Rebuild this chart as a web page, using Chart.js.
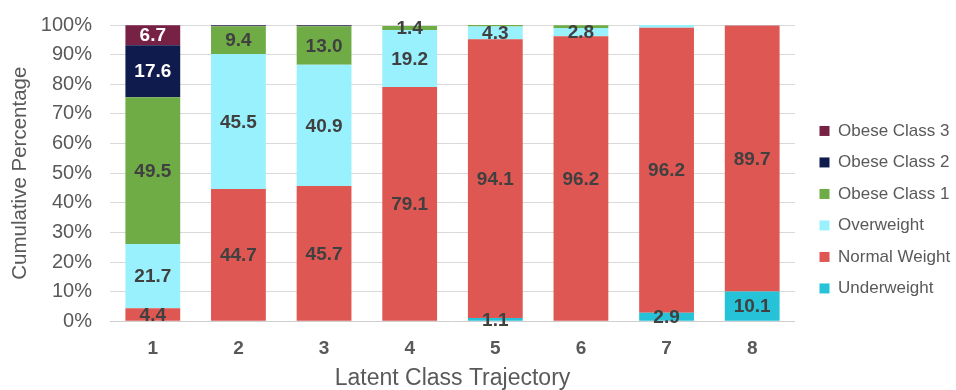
<!DOCTYPE html>
<html>
<head>
<meta charset="utf-8">
<script src="https://cdn.jsdelivr.net/npm/chart.js@4/dist/chart.umd.min.js"></script>
<style>
  html, body { margin: 0; padding: 0; background: #fff; }
  #wrap { width: 956px; height: 390px; }
</style>
</head>
<body>
<div id="wrap"><canvas id="c" width="956" height="390"></canvas></div>
<script>
// Trajectory classes on the x axis
const categories = ['1', '2', '3', '4', '5', '6', '7', '8'];

// Share of each BMI group within every trajectory class (%)
const underweight  = [0.0, 0.0, 0.0, 0.0, 1.1, 0.0, 2.9, 10.1];
const normalWeight = [4.4, 44.7, 45.7, 79.1, 94.1, 96.2, 96.2, 89.7];
const overweight   = [21.7, 45.5, 40.9, 19.2, 4.3, 2.8, 0.9, 0.2];
const obeseClass1  = [49.5, 9.4, 13.0, 1.4, 0.5, 0.9, 0.0, 0.0];
const obeseClass2  = [17.6, 0.2, 0.2, 0.0, 0.0, 0.0, 0.0, 0.0];
const obeseClass3  = [6.7, 0.2, 0.2, 0.0, 0.0, 0.0, 0.0, 0.0];

const yTicks = [0, 10, 20, 30, 40, 50, 60, 70, 80, 90, 100];

const FONT = '"Liberation Sans", Arial, sans-serif';

const series = [
  { label: 'Underweight',   data: underweight,  color: '#26C2D8', text: '#404040' },
  { label: 'Normal Weight', data: normalWeight, color: '#DF5753', text: '#404040' },
  { label: 'Overweight',    data: overweight,   color: '#99F1FE', text: '#404040' },
  { label: 'Obese Class 1', data: obeseClass1,  color: '#6FAC46', text: '#404040' },
  { label: 'Obese Class 2', data: obeseClass2,  color: '#0F1B4C', text: '#FFFFFF' },
  { label: 'Obese Class 3', data: obeseClass3,  color: '#772145', text: '#FFFFFF' }
];

// Value labels centred in every segment of at least 1%
const segmentLabels = {
  id: 'segmentLabels',
  afterDatasetsDraw(chart) {
    const ctx = chart.ctx;
    ctx.save();
    ctx.font = 'bold 19px ' + FONT;
    ctx.textAlign = 'center';
    ctx.textBaseline = 'middle';
    chart.data.datasets.forEach((ds, i) => {
      const meta = chart.getDatasetMeta(i);
      meta.data.forEach((bar, j) => {
        const v = ds.data[j];
        if (v < 1) return;
        ctx.fillStyle = series[i].text;
        ctx.fillText(v.toFixed(1), bar.x, (bar.y + bar.base) / 2 + 1);
      });
    });
    ctx.restore();
  }
};

// Fixed-width legend column on the right, items nudged toward the edge
const legendWidth = {
  id: 'legendWidth',
  afterInit(chart) {
    const lg = chart.legend;
    if (!lg) return;
    const fit = lg.fit.bind(lg);
    lg.fit = function () {
      fit();
      this.width = 161;
    };
    const draw = lg.draw.bind(lg);
    lg.draw = function () {
      const ctx = this.ctx;
      ctx.save();
      ctx.translate(10, 0);
      draw();
      ctx.restore();
    };
  }
};

new Chart(document.getElementById('c'), {
  type: 'bar',
  data: {
    labels: categories,
    datasets: series.map(s => ({
      label: s.label,
      data: s.data,
      backgroundColor: s.color,
      borderWidth: 0,
      categoryPercentage: 1.0,
      barPercentage: 0.64
    }))
  },
  options: {
    responsive: false,
    animation: false,
    layout: { padding: { top: 25, right: 0, left: 0, bottom: 0 } },
    plugins: {
      legend: {
        position: 'right',
        reverse: true,
        title: { display: true, text: ' ', font: { size: 2 }, padding: 1 },
        labels: {
          boxWidth: 10,
          boxHeight: 10,
          padding: 14.5,
          color: '#595959',
          font: { family: FONT, size: 17 }
        }
      },
      tooltip: { enabled: false }
    },
    scales: {
      x: {
        stacked: true,
        grid: { display: false },
        border: { display: false },
        ticks: {
          color: '#595959',
          font: { family: FONT, size: 19, weight: 'bold' },
          padding: 8
        },
        title: {
          display: true,
          text: 'Latent Class Trajectory',
          color: '#595959',
          font: { family: FONT, size: 23, lineHeight: 0.95 },
          padding: { top: 0, bottom: 0 }
        }
      },
      y: {
        stacked: true,
        min: 0,
        max: 100,
        afterBuildTicks(axis) { axis.ticks = yTicks.map(v => ({ value: v })); },
        afterFit(axis) {
          axis.width = 110;
          axis.paddingTop = 0;
          axis.paddingBottom = 0;
        },
        grid: {
          color: ctx => (ctx.tick && ctx.tick.value === 0 ? '#CFCFCF' : '#D9D9D9'),
          lineWidth: 1,
          drawTicks: false
        },
        border: { display: false },
        ticks: {
          color: '#595959',
          font: { family: FONT, size: 20 },
          padding: 18,
          callback: v => v + '%'
        },
        title: {
          display: true,
          text: 'Cumulative Percentage',
          color: '#595959',
          font: { family: FONT, size: 20.5 },
          padding: { top: 8, bottom: 0 }
        }
      }
    }
  },
  plugins: [segmentLabels, legendWidth]
});
</script>
</body>
</html>
